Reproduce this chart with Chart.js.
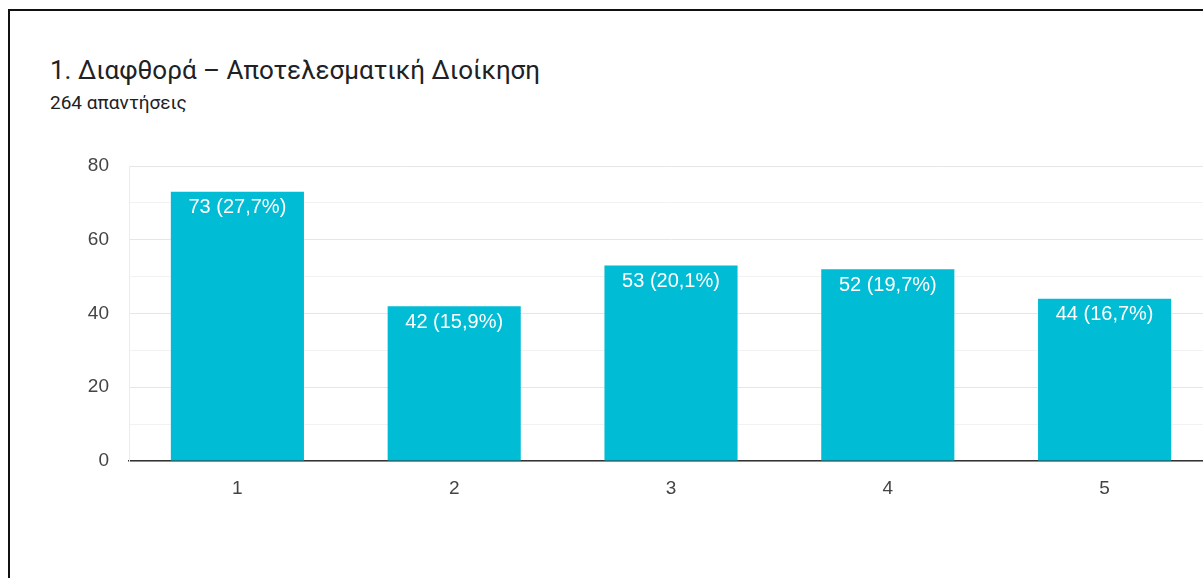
<!DOCTYPE html>
<html>
<head>
<meta charset="utf-8">
<script src="https://cdn.jsdelivr.net/npm/chart.js@4.4.0/dist/chart.umd.min.js"></script>
<style>
  html, body { margin: 0; padding: 0; background: #fff; }
  #page { position: relative; width: 1203px; height: 578px; overflow: hidden; }
  #frame { position: absolute; left: 8px; top: 9px; width: 1400px; height: 800px; border: 2px solid #111; }
  #title { position: absolute; left: 50px; top: 53px; font: 26px Roboto, sans-serif; color: #202124; line-height: 34px; white-space: nowrap; }
  #sub { position: absolute; left: 50px; top: 91px; font: 19px Roboto, sans-serif; color: #202124; line-height: 24px; white-space: nowrap; }
  #wrap { position: absolute; left: 0; top: 0; width: 1213px; height: 578px; }
</style>
</head>
<body>
<div id="page">
  <div id="frame"></div>
  <div id="title">1. Διαφθορά – Αποτελεσματική Διοίκηση</div>
  <div id="sub">264 απαντήσεις</div>
  <div id="wrap"><canvas id="myChart" width="1213" height="578"></canvas></div>
</div>
<script>
const ctx = document.getElementById('myChart').getContext('2d');

const categorias = ['1', '2', '3', '4', '5'];
const respostas = [73, 42, 53, 52, 44];
const rotulos = ['73 (27,7%)', '42 (15,9%)', '53 (20,1%)', '52 (19,7%)', '44 (16,7%)'];

// escreve o rótulo dentro do topo de cada barra
const rotuloBarras = {
  id: 'rotuloBarras',
  afterDatasetsDraw(chart) {
    const c = chart.ctx;
    const meta = chart.getDatasetMeta(0);
    c.save();
    c.fillStyle = '#ffffff';
    c.font = '20px "Liberation Sans", Arial, sans-serif';
    c.textAlign = 'center';
    c.textBaseline = 'top';
    meta.data.forEach((bar, i) => {
      c.fillText(rotulos[i], bar.x, bar.y + 6);
    });
    c.restore();
  }
};

new Chart(ctx, {
  type: 'bar',
  data: {
    labels: categorias,
    datasets: [{
      data: respostas,
      backgroundColor: '#00bcd4',
      categoryPercentage: 1,
      barPercentage: 0.614
    }]
  },
  options: {
    responsive: false,
    animation: false,
    layout: { padding: { top: 166, left: 0, right: 0, bottom: 0 } },
    plugins: {
      legend: { display: false },
      tooltip: { enabled: false }
    },
    scales: {
      x: {
        grid: { display: false },
        border: { display: true, color: '#333333', width: 1.5 },
        ticks: {
          color: '#444444',
          padding: 8,
          font: { family: '"Liberation Sans", Arial, sans-serif', size: 19 }
        },
        afterFit(scale) { scale.height = 117; }
      },
      y: {
        min: 0,
        max: 80,
        border: { display: true, color: '#ececec' },
        grid: {
          drawTicks: false,
          color: (c) => (c.tick.value % 20 === 0 ? '#e6e6e6' : '#f2f2f2')
        },
        ticks: {
          stepSize: 10,
          padding: 20,
          color: '#444444',
          font: { family: '"Liberation Sans", Arial, sans-serif', size: 19 },
          callback: (v) => (v % 20 === 0 ? v : '')
        },
        afterFit(scale) { scale.width = 129; }
      }
    }
  },
  plugins: [rotuloBarras]
});
</script>
</body>
</html>
